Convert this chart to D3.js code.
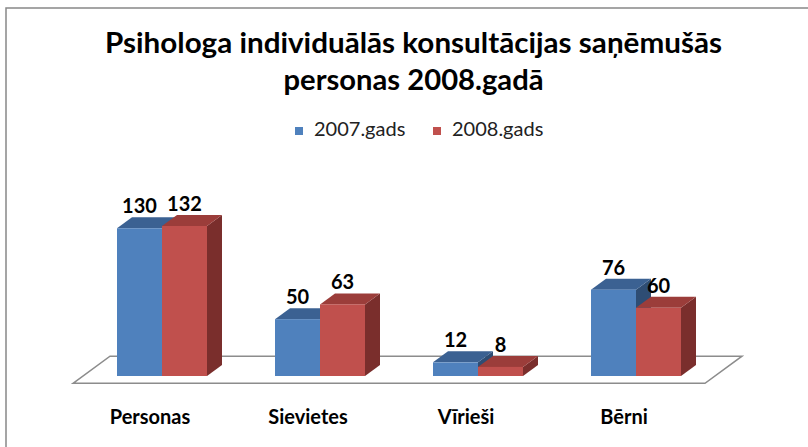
<!DOCTYPE html>
<html>
<head>
<meta charset="utf-8">
<script src="https://cdn.jsdelivr.net/npm/d3@7"></script>
<style>
  body { margin: 0; background: #fff; }
  text { font-family: Lato, "Open Sans", sans-serif; }
</style>
</head>
<body>
<div id="app"></div>
<script>
// chart data
let categories = ["Personas", "Sievietes", "Vīrieši", "Bērni"];
let seriesNames = ["2007.gads", "2008.gads"];
let values2007 = [130, 50, 12, 76];
let values2008 = [132, 63, 8, 60];
let titleLines = ["Psihologa individuālās konsultācijas saņēmušās", "personas 2008.gadā"];

let W = 808, H = 447;
let svg = d3.select("#app")
  .append("svg")
    .attr("width", W)
    .attr("height", H);

// outer frame (cut by the picture on right and bottom)
svg.append("rect")
  .attr("x", 6).attr("y", 8)
  .attr("width", 820).attr("height", 460)
  .attr("fill", "#fff")
  .attr("stroke", "#888")
  .attr("stroke-width", 1.5);

// title
svg.selectAll(".title")
  .data(titleLines)
  .enter()
  .append("text")
    .attr("class", "title")
    .attr("x", 413.5)
    .attr("y", (d, i) => 53 + i * 37)
    .attr("text-anchor", "middle")
    .attr("font-size", 28)
    .attr("font-weight", "bold")
    .attr("textLength", (d, i) => i === 0 ? 617 : 260)
    .attr("lengthAdjust", "spacingAndGlyphs")
    .attr("fill", "#000")
    .text(d => d);

// colours: front, top, side
let colors = {
  "2007.gads": { front: "#4F81BD", top: "#3B6192", side: "#2E4D74" },
  "2008.gads": { front: "#C0504D", top: "#9B3D3A", side: "#7A2E2C" }
};

// legend
let legendX = [295, 433];
let legend = svg.selectAll(".legend")
  .data(seriesNames)
  .enter()
  .append("g")
    .attr("class", "legend")
    .attr("transform", (d, i) => "translate(" + legendX[i] + ",0)");
legend.append("rect")
  .attr("x", 0).attr("y", 127)
  .attr("width", 8).attr("height", 8)
  .attr("fill", d => colors[d].front);
legend.append("text")
  .attr("x", 19).attr("y", 136)
  .attr("font-size", 20)
  .attr("fill", "#222")
  .text(d => d);

// scales
let baseY = 376;
let x = d3.scaleBand()
  .domain(categories)
  .range([83, 715]);
let groupW = 90;
let xs = d3.scaleBand()
  .domain(seriesNames)
  .range([0, groupW]);
let y = d3.scaleLinear()
  .domain([0, 132])
  .range([baseY, 226]);

// oblique depth
let depth = 15, slope = 0.733;
let floorFront = -10, floorBack = 27;

// floor
let x0 = x.range()[0], x1 = x.range()[1];
let fp = (px, d) => [px + d, baseY - d * slope];
let floorPts = [fp(x0, floorFront), fp(x0, floorBack), fp(x1, floorBack), fp(x1, floorFront)];
svg.append("polygon")
  .attr("points", floorPts.map(p => p.join(",")).join(" "))
  .attr("fill", "#fff")
  .attr("stroke", "#8c8c8c")
  .attr("stroke-width", 1.5);

// bars data
let bars = [];
categories.forEach((c, i) => {
  bars.push({ cat: c, series: seriesNames[0], val: values2007[i] });
  bars.push({ cat: c, series: seriesNames[1], val: values2008[i] });
});
let bx = d => x(d.cat) + (x.bandwidth() - groupW) / 2 + xs(d.series);
let bw = xs.bandwidth();
let ddx = depth, ddy = depth * slope;

let barG = svg.selectAll(".bar")
  .data(bars)
  .enter()
  .append("g")
    .attr("class", "bar");

// side face
barG.append("polygon")
  .attr("points", d => {
    let l = bx(d) + bw, t = y(d.val);
    return [[l, t], [l + ddx, t - ddy], [l + ddx, baseY - ddy], [l, baseY]].map(p => p.join(",")).join(" ");
  })
  .attr("fill", d => colors[d.series].side);
// top face
barG.append("polygon")
  .attr("points", d => {
    let l = bx(d), t = y(d.val);
    return [[l, t], [l + ddx, t - ddy], [l + bw + ddx, t - ddy], [l + bw, t]].map(p => p.join(",")).join(" ");
  })
  .attr("fill", d => colors[d.series].top);
// front face
barG.append("rect")
  .attr("x", d => bx(d))
  .attr("y", d => y(d.val))
  .attr("width", bw)
  .attr("height", d => baseY - y(d.val))
  .attr("fill", d => colors[d.series].front);

// value labels
svg.selectAll(".val")
  .data(bars)
  .enter()
  .append("text")
    .attr("class", "val")
    .attr("x", d => bx(d) + bw / 2)
    .attr("y", d => y(d.val) - 15)
    .attr("text-anchor", "middle")
    .attr("font-size", 20)
    .attr("font-weight", "bold")
    .attr("fill", "#000")
    .text(d => d.val);

// category labels
svg.selectAll(".cat")
  .data(categories)
  .enter()
  .append("text")
    .attr("class", "cat")
    .attr("x", d => x(d) + x.bandwidth() / 2 - 12)
    .attr("y", 424)
    .attr("text-anchor", "middle")
    .attr("font-size", 20)
    .attr("font-weight", "bold")
    .attr("fill", "#000")
    .text(d => d);
</script>
</body>
</html>
